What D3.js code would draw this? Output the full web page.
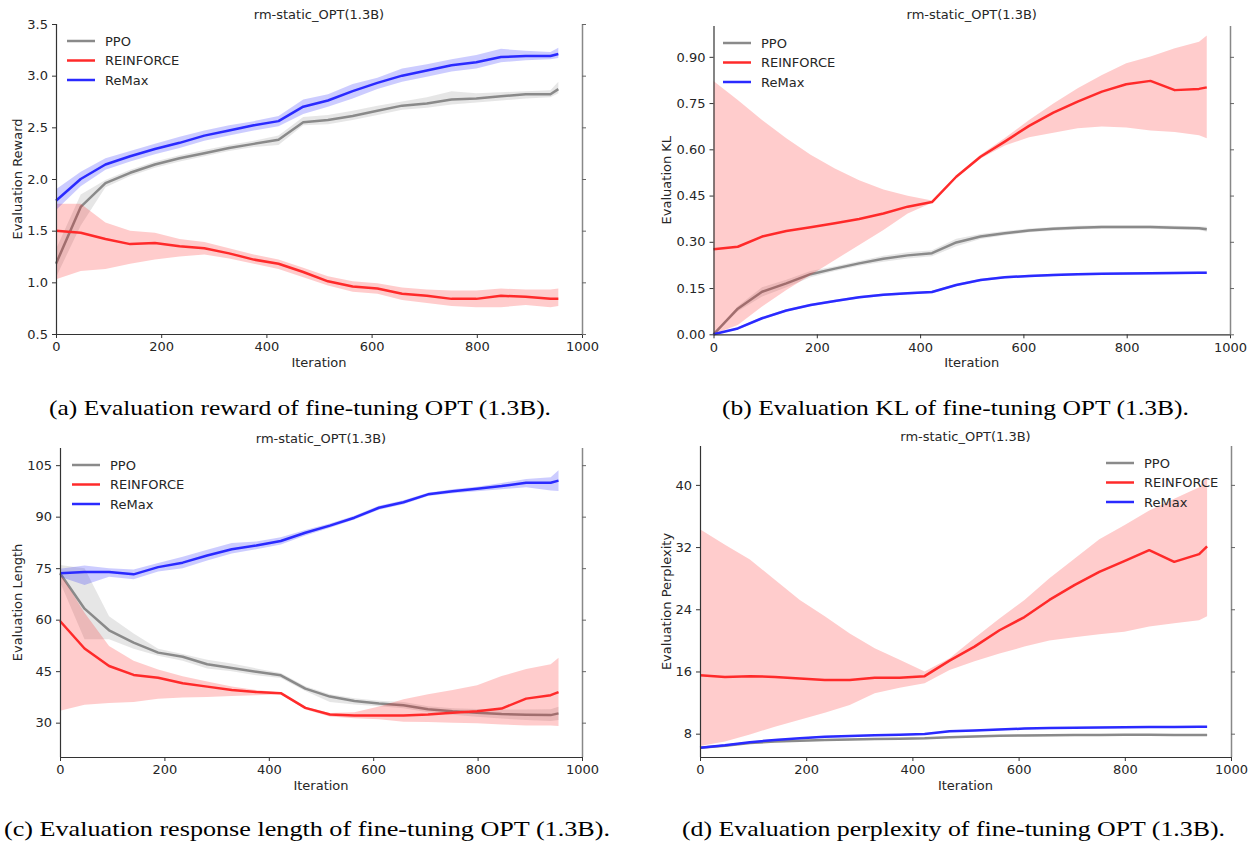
<!DOCTYPE html>
<html>
<head>
<meta charset="utf-8">
<script src="https://cdn.jsdelivr.net/npm/d3@7"></script>
<style>
  body { margin: 0; background: #fff; }
  svg { display: block; }
  .tick text { font-family: "DejaVu Sans", sans-serif; font-size: 13px; fill: #262626; }
  .lbl { font-family: "DejaVu Sans", sans-serif; font-size: 13px; fill: #262626; }
  .cap { font-family: "Liberation Serif", serif; font-size: 22px; fill: #000; }
</style>
</head>
<body>
<svg id="chart" width="1251" height="842"></svg>
<script>
// evaluation steps shared by every panel
const iterations = [0, 47, 94, 141, 188, 235, 282, 329, 376, 423, 470, 517, 564, 611, 658, 705, 752, 799, 846, 893, 940, 955];
const methods = ['PPO', 'REINFORCE', 'ReMax'];
const xTicks = [0, 200, 400, 600, 800, 1000];

// (a) evaluation reward
const rewardPPO      = [1.18, 1.73, 1.96, 2.06, 2.14, 2.20, 2.25, 2.30, 2.34, 2.38, 2.55, 2.57, 2.61, 2.66, 2.71, 2.73, 2.77, 2.78, 2.80, 2.82, 2.82, 2.87];
const rewardPPOLo    = [1.05, 1.55, 1.92, 2.03, 2.11, 2.17, 2.22, 2.27, 2.31, 2.33, 2.52, 2.53, 2.57, 2.62, 2.67, 2.69, 2.72, 2.74, 2.76, 2.78, 2.79, 2.83];
const rewardPPOHi    = [1.32, 1.85, 1.99, 2.09, 2.17, 2.23, 2.28, 2.33, 2.37, 2.42, 2.60, 2.62, 2.66, 2.71, 2.75, 2.79, 2.85, 2.83, 2.84, 2.85, 2.86, 2.94];
const rewardRF       = [1.50, 1.48, 1.42, 1.37, 1.38, 1.35, 1.33, 1.28, 1.22, 1.18, 1.10, 1.01, 0.96, 0.94, 0.89, 0.87, 0.84, 0.84, 0.87, 0.86, 0.84, 0.84];
const rewardRFLo     = [1.03, 1.11, 1.13, 1.18, 1.22, 1.25, 1.27, 1.23, 1.18, 1.13, 1.05, 0.97, 0.91, 0.89, 0.83, 0.80, 0.77, 0.76, 0.76, 0.78, 0.76, 0.77];
const rewardRFHi     = [1.76, 1.76, 1.58, 1.50, 1.48, 1.42, 1.39, 1.33, 1.27, 1.22, 1.14, 1.06, 1.01, 0.99, 0.95, 0.93, 0.92, 0.92, 0.94, 0.93, 0.93, 0.94];
const rewardReMax    = [1.79, 2.00, 2.14, 2.22, 2.29, 2.35, 2.42, 2.47, 2.52, 2.56, 2.70, 2.76, 2.85, 2.93, 3.00, 3.05, 3.10, 3.13, 3.18, 3.19, 3.19, 3.21];
const rewardReMaxLo  = [1.70, 1.93, 2.09, 2.17, 2.24, 2.30, 2.37, 2.42, 2.47, 2.51, 2.63, 2.70, 2.78, 2.87, 2.94, 2.99, 3.04, 3.07, 3.13, 3.15, 3.16, 3.17];
const rewardReMaxHi  = [1.90, 2.07, 2.20, 2.27, 2.34, 2.41, 2.47, 2.52, 2.56, 2.61, 2.77, 2.82, 2.92, 2.98, 3.07, 3.11, 3.16, 3.20, 3.26, 3.24, 3.23, 3.27];
const rewardTicks    = [0.5, 1.0, 1.5, 2.0, 2.5, 3.0, 3.5];

// (b) evaluation KL
const klPPO      = [0.000, 0.083, 0.138, 0.165, 0.195, 0.213, 0.230, 0.245, 0.256, 0.263, 0.298, 0.317, 0.328, 0.337, 0.342, 0.346, 0.348, 0.348, 0.348, 0.346, 0.344, 0.341];
const klPPOLo    = [0.000, 0.075, 0.123, 0.153, 0.185, 0.205, 0.222, 0.235, 0.246, 0.253, 0.286, 0.309, 0.321, 0.331, 0.336, 0.340, 0.342, 0.342, 0.342, 0.340, 0.338, 0.333];
const klPPOHi    = [0.000, 0.091, 0.153, 0.177, 0.205, 0.221, 0.238, 0.255, 0.266, 0.273, 0.310, 0.325, 0.335, 0.343, 0.348, 0.352, 0.354, 0.354, 0.354, 0.352, 0.350, 0.349];
const klRF       = [0.276, 0.284, 0.317, 0.335, 0.347, 0.360, 0.374, 0.392, 0.414, 0.429, 0.511, 0.576, 0.625, 0.676, 0.719, 0.755, 0.787, 0.811, 0.822, 0.792, 0.796, 0.801];
const klRFLo     = [0.000, 0.030, 0.090, 0.144, 0.192, 0.241, 0.290, 0.338, 0.392, 0.427, 0.508, 0.570, 0.612, 0.639, 0.654, 0.668, 0.674, 0.671, 0.661, 0.656, 0.646, 0.636];
const klRFHi     = [0.822, 0.760, 0.695, 0.636, 0.582, 0.538, 0.500, 0.470, 0.449, 0.434, 0.515, 0.582, 0.637, 0.695, 0.749, 0.798, 0.841, 0.879, 0.901, 0.928, 0.949, 0.969];
const klReMax    = [0.000, 0.019, 0.052, 0.077, 0.095, 0.108, 0.120, 0.128, 0.133, 0.137, 0.160, 0.176, 0.185, 0.189, 0.192, 0.195, 0.196, 0.197, 0.198, 0.199, 0.200, 0.200];
const klReMaxLo  = [0.000, 0.015, 0.048, 0.073, 0.091, 0.104, 0.116, 0.124, 0.129, 0.133, 0.156, 0.172, 0.181, 0.185, 0.188, 0.191, 0.192, 0.193, 0.194, 0.195, 0.196, 0.196];
const klReMaxHi  = [0.000, 0.023, 0.056, 0.081, 0.099, 0.112, 0.124, 0.132, 0.137, 0.141, 0.164, 0.180, 0.189, 0.193, 0.196, 0.199, 0.200, 0.201, 0.202, 0.203, 0.204, 0.204];
const klTicks    = [0.00, 0.15, 0.30, 0.45, 0.60, 0.75, 0.90];

// (c) evaluation response length
const lenPPO      = [73.5, 63.2, 56.9, 53.3, 50.4, 49.2, 47.0, 45.9, 44.8, 43.8, 39.9, 37.6, 36.3, 35.6, 35.1, 33.9, 33.3, 32.9, 32.5, 32.3, 32.2, 32.7];
const lenPPOLo    = [71.0, 54.3, 54.3, 51.5, 49.5, 48.0, 45.8, 45.0, 43.8, 43.0, 39.2, 36.0, 35.3, 34.8, 34.2, 33.0, 32.3, 31.7, 31.2, 30.8, 30.5, 30.8];
const lenPPOHi    = [75.9, 75.0, 61.0, 56.0, 51.5, 50.0, 48.3, 47.2, 45.8, 44.5, 40.6, 38.3, 37.1, 36.4, 36.0, 34.8, 34.2, 34.0, 33.8, 33.8, 33.9, 34.6];
const lenRF       = [59.6, 51.6, 46.5, 43.9, 43.1, 41.5, 40.5, 39.5, 38.9, 38.6, 34.3, 32.4, 32.1, 32.1, 32.1, 32.4, 32.9, 33.3, 34.1, 37.0, 38.0, 38.9];
const lenRFLo     = [33.5, 35.2, 35.7, 36.0, 37.0, 37.3, 37.5, 37.8, 38.0, 38.3, 33.8, 31.8, 31.3, 31.0, 30.3, 30.2, 30.0, 29.8, 29.5, 29.2, 29.2, 29.0];
const lenRFHi     = [73.5, 62.0, 52.3, 48.0, 45.5, 43.5, 42.0, 40.5, 39.5, 38.8, 34.6, 32.8, 33.0, 34.7, 36.8, 38.3, 39.5, 40.9, 43.6, 45.6, 47.0, 48.9];
const lenReMax    = [73.5, 73.9, 73.9, 73.2, 75.3, 76.6, 78.7, 80.5, 81.6, 82.9, 85.3, 87.4, 89.7, 92.6, 94.2, 96.5, 97.4, 98.1, 98.9, 99.9, 99.9, 100.5];
const lenReMaxLo  = [72.5, 70.1, 72.5, 71.8, 74.0, 75.0, 77.2, 79.3, 80.5, 81.9, 84.5, 86.8, 89.2, 92.0, 93.6, 96.0, 96.8, 97.4, 98.0, 98.6, 97.6, 97.5];
const lenReMaxHi  = [74.8, 75.8, 75.0, 74.6, 76.5, 78.3, 80.4, 82.3, 82.8, 84.0, 86.1, 88.0, 90.3, 93.2, 94.8, 97.0, 98.0, 98.7, 99.8, 101.0, 101.5, 103.5];
const lenTicks    = [30, 45, 60, 75, 90, 105];

// (d) evaluation perplexity
const pplPPO      = [6.2, 6.45, 6.8, 7.0, 7.1, 7.2, 7.25, 7.3, 7.35, 7.4, 7.55, 7.65, 7.72, 7.77, 7.8, 7.82, 7.84, 7.85, 7.85, 7.84, 7.83, 7.82];
const pplPPOLo    = [6.1, 6.33, 6.68, 6.88, 6.98, 7.08, 7.13, 7.18, 7.23, 7.28, 7.43, 7.53, 7.6, 7.65, 7.68, 7.7, 7.72, 7.73, 7.73, 7.72, 7.71, 7.7];
const pplPPOHi    = [6.3, 6.57, 6.92, 7.12, 7.22, 7.32, 7.37, 7.42, 7.47, 7.52, 7.67, 7.77, 7.84, 7.89, 7.92, 7.94, 7.96, 7.97, 7.97, 7.96, 7.95, 7.94];
const pplRF       = [15.5, 15.3, 15.4, 15.3, 15.1, 14.9, 14.9, 15.2, 15.2, 15.4, 17.4, 19.2, 21.3, 23.0, 25.2, 27.1, 28.8, 30.2, 31.6, 30.1, 31.1, 32.1];
const pplRFLo     = [6.4, 7.0, 7.9, 8.9, 9.8, 10.7, 11.7, 13.2, 13.9, 14.5, 16.2, 17.3, 18.3, 19.2, 20.0, 20.4, 20.8, 21.1, 21.8, 22.2, 22.6, 23.1];
const pplRFHi     = [34.3, 32.3, 30.4, 27.8, 25.2, 23.1, 20.9, 19.0, 17.5, 16.0, 17.7, 20.3, 22.8, 25.2, 28.0, 30.5, 33.0, 34.8, 36.7, 38.2, 39.7, 41.0];
const pplReMax    = [6.2, 6.5, 6.9, 7.2, 7.4, 7.6, 7.7, 7.8, 7.85, 7.95, 8.3, 8.4, 8.55, 8.65, 8.72, 8.77, 8.8, 8.83, 8.85, 8.87, 8.9, 8.9];
const pplReMaxLo  = [6.1, 6.4, 6.8, 7.1, 7.3, 7.5, 7.6, 7.7, 7.75, 7.85, 8.2, 8.3, 8.45, 8.55, 8.62, 8.67, 8.7, 8.73, 8.75, 8.77, 8.8, 8.8];
const pplReMaxHi  = [6.3, 6.6, 7.0, 7.3, 7.5, 7.7, 7.8, 7.9, 7.95, 8.05, 8.4, 8.5, 8.65, 8.75, 8.82, 8.87, 8.9, 8.93, 8.95, 8.97, 9.0, 9.0];
const pplTicks    = [8, 16, 24, 32, 40];

const panelTitle = 'rm-static_OPT(1.3B)';
const captions = [
    '(a) Evaluation reward of fine-tuning OPT (1.3B).',
    '(b) Evaluation KL of fine-tuning OPT (1.3B).',
    '(c) Evaluation response length of fine-tuning OPT (1.3B).',
    '(d) Evaluation perplexity of fine-tuning OPT (1.3B).'
];

/*  ==============
    CONFIG
    ==============
 */
const lineColor = { PPO: '#8a8a8a', REINFORCE: '#ff2a2a', ReMax: '#2a2aff' };
const bandColor = { PPO: 'gray', REINFORCE: 'red', ReMax: 'blue' };

// panel boxes (pixels) and domains
const panels = [
    { box: [56, 582, 24, 334], domain: [0.5, 3.5], ticks: rewardTicks, fmt: d3.format('.1f'),
      ylabel: 'Evaluation Reward', ylx: 18, legend: [67, 41], caption: [49, 551, 415],
      series: [[rewardPPO, rewardPPOLo, rewardPPOHi], [rewardRF, rewardRFLo, rewardRFHi], [rewardReMax, rewardReMaxLo, rewardReMaxHi]] },
    { box: [713.5, 1230, 26, 334.3], domain: [0, 1.0], ticks: klTicks, fmt: d3.format('.2f'),
      ylabel: 'Evaluation KL', ylx: 667, legend: [723, 43], caption: [722, 1189, 415],
      series: [[klPPO, klPPOLo, klPPOHi], [klRF, klRFLo, klRFHi], [klReMax, klReMaxLo, klReMaxHi]] },
    { box: [60, 582, 448, 757], domain: [20, 110], ticks: lenTicks, fmt: d3.format('d'),
      ylabel: 'Evaluation Length', ylx: 18, legend: [72, 465], caption: [4, 610, 836],
      series: [[lenPPO, lenPPOLo, lenPPOHi], [lenRF, lenRFLo, lenRFHi], [lenReMax, lenReMaxLo, lenReMaxHi]] },
    { box: [700, 1231, 446, 757], domain: [5, 45], ticks: pplTicks, fmt: d3.format('d'),
      ylabel: 'Evaluation Perplexity', ylx: 667, legend: [1106, 463], caption: [682, 1225, 836],
      series: [[pplPPO, pplPPOLo, pplPPOHi], [pplRF, pplRFLo, pplRFHi], [pplReMax, pplReMaxLo, pplReMaxHi]] }
];

const svg = d3.select('#chart');

panels.forEach((p, pi) => {
    const [x0, x1, y0, y1] = p.box;
    const xScale = d3.scaleLinear().domain([0, 1000]).range([x0, x1]);
    const yScale = d3.scaleLinear().domain(p.domain).range([y1, y0]);
    const g = svg.append('g');

    // bands then lines, in plotting order
    methods.forEach((m, mi) => {
        const [mean, lo, hi] = p.series[mi];
        const rows = iterations.map((it, i) => ({ it: it, mean: mean[i], lo: lo[i], hi: hi[i] }));
        g.append('path')
            .datum(rows)
            .attr('fill', bandColor[m])
            .attr('fill-opacity', 0.2)
            .attr('d', d3.area()
                .x((d) => xScale(d.it))
                .y0((d) => yScale(d.lo))
                .y1((d) => yScale(d.hi)));
        g.append('path')
            .datum(rows)
            .attr('fill', 'none')
            .attr('stroke', lineColor[m])
            .attr('stroke-width', 2.5)
            .attr('stroke-linejoin', 'round')
            .attr('d', d3.line()
                .x((d) => xScale(d.it))
                .y((d) => yScale(d.mean)));
    });

    /* Axes */
    const left = g.append('g')
        .attr('transform', `translate(${x0},0)`)
        .call(d3.axisLeft(yScale).tickValues(p.ticks).tickFormat(p.fmt).tickSize(4).tickPadding(4));
    const bottom = g.append('g')
        .attr('transform', `translate(0,${y1})`)
        .call(d3.axisBottom(xScale).tickValues(xTicks).tickFormat(d3.format('d')).tickSize(4).tickPadding(4));
    const right = g.append('g')
        .attr('transform', `translate(${x1},0)`)
        .call(d3.axisRight(yScale).tickValues(p.ticks).tickFormat('').tickSize(4));
    [left, bottom].forEach((a) => {
        a.select('.domain').attr('stroke', '#333').attr('stroke-width', 1.2);
        a.selectAll('.tick line').attr('stroke', '#333');
    });
    right.select('.domain').attr('stroke', '#888').attr('stroke-width', 1.5);
    right.selectAll('.tick line').attr('stroke', '#666');
    g.selectAll('.domain').each(function() {
        // strip the outer tick stubs d3 adds to the spine
        const a = d3.select(this);
        const isX = a.node().parentNode === bottom.node();
        a.attr('d', isX ? `M${x0},0.5H${x1}` : `M0.5,${y0}V${y1}`);
    });

    /* Labels */
    g.append('text').attr('class', 'lbl')
        .attr('x', (x0 + x1) / 2).attr('y', y0 - 5 - (pi === 1 ? 2 : 0))
        .attr('text-anchor', 'middle')
        .text(panelTitle);
    g.append('text').attr('class', 'lbl')
        .attr('x', (x0 + x1) / 2).attr('y', y1 + 33)
        .attr('text-anchor', 'middle')
        .text('Iteration');
    g.append('text').attr('class', 'lbl')
        .attr('transform', `translate(${p.ylx + 4},${(y0 + y1) / 2}) rotate(-90)`)
        .attr('text-anchor', 'middle')
        .text(p.ylabel);

    /* Legend */
    const legend = g.append('g')
        .attr('transform', `translate(${p.legend[0]},${p.legend[1]})`)
        .selectAll('g')
        .data(methods)
        .enter()
        .append('g')
        .attr('transform', (d, i) => `translate(0,${i * 19.5})`);
    legend.append('line')
        .attr('x1', 0).attr('x2', 28)
        .attr('stroke', (d) => lineColor[d])
        .attr('stroke-width', 2.5);
    legend.append('text').attr('class', 'lbl')
        .attr('x', 38).attr('dy', '0.35em')
        .text((d) => d);

    /* Caption */
    const [cx0, cx1, cy] = p.caption;
    svg.append('text').attr('class', 'cap')
        .attr('x', cx0).attr('y', cy)
        .attr('textLength', cx1 - cx0)
        .attr('lengthAdjust', 'spacingAndGlyphs')
        .text(captions[pi]);
});
</script>
</body>
</html>
